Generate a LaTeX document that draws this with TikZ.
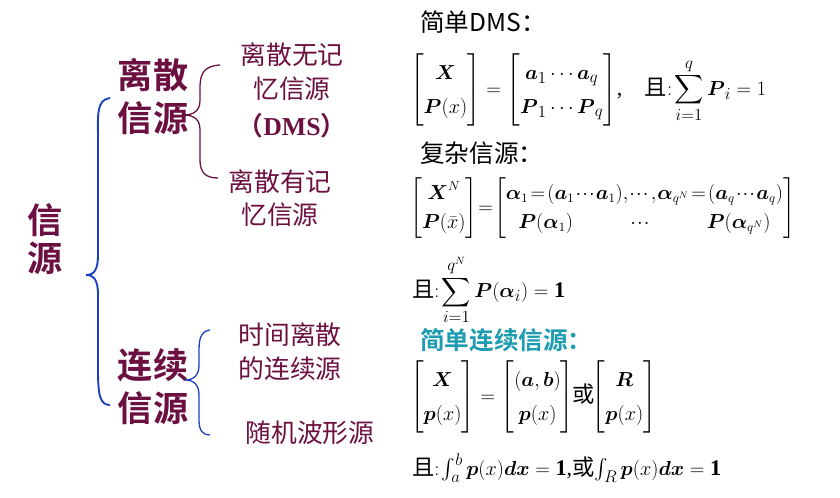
\documentclass[tikz,border=0pt]{standalone}
\usepackage{amsmath}
\usepackage{fontspec}
\setmainfont{Liberation Serif}
\newfontfamily\cjk{Noto Sans CJK SC}[BoldFont={Noto Sans CJK SC Bold}]
\usetikzlibrary{positioning}
\definecolor{maroon}{HTML}{6B1040}
\definecolor{braceblue}{HTML}{1A3FBF}
\definecolor{teal}{HTML}{1E9CB0}
\tikzset{
  big/.style={text=maroon, font=\cjk\bfseries\fontsize{30}{34}\selectfont, inner sep=0pt},
  mid/.style={text=maroon, font=\cjk\fontsize{22}{26}\selectfont, inner sep=0pt},
  head/.style={font=\cjk\fontsize{21}{24}\selectfont, inner sep=0pt, anchor=west},
  eq/.style={font=\fontsize{19}{23}\selectfont, inner sep=0pt, anchor=west},
}
\newcommand{\qie}{{\cjk 且}}
\renewcommand{\arraystretch}{1.25}
\begin{document}
\begin{tikzpicture}[x=0.03cm, y=-0.03cm]
	 		\useasboundingbox (0,0) rectangle (840,497);
	 		% Left labels
	 		\node[big] (xin) at (45,220) {信};
	 		\node[big] (yuan) at (45,258) {源};
	 		\node[big] (ls1) at (153,75) {离散};
	 		\node[big] (ls2) at (153,118) {信源};
	 		\node[big] (lx1) at (153,365) {连续};
	 		\node[big] (lx2) at (153,408) {信源};
	 		% Sub labels
	 		\node[mid] (dm1) at (292,55) {离散无记};
	 		\node[mid] (dm2) at (292,89) {忆信源};
	 		\node[mid, font=\bfseries\fontsize{22}{26}\selectfont] (dm3) at (292,126) {{\cjk （}DMS{\cjk ）}};
	 		\node[mid] (dy1) at (280,182) {离散有记};
	 		\node[mid] (dy2) at (280,215) {忆信源};
	 		\node[mid] (sj1) at (290,335) {时间离散};
	 		\node[mid] (sj2) at (290,369) {的连续源};
	 		\node[mid] (sj3) at (310,433) {随机波形源};
	 		% Braces
	 		\coordinate (b1) at (86,275);
	 		\coordinate (b1t) at (110,98);
	 		\coordinate (b1b) at (110,405);
	 		\draw[braceblue, line width=1.6pt] (b1t) .. controls (96,100) and (98,115) .. (98,140)
	 		  -- (98,255) .. controls (98,270) and (94,275) .. (b1)
	 		  .. controls (94,275) and (98,280) .. (98,295) -- (98,370)
	 		  .. controls (98,395) and (100,405) .. (b1b);
	 		\coordinate (b2) at (183,115);
	 		\coordinate (b2t) at (220,65);
	 		\coordinate (b2b) at (218,178);
	 		\draw[maroon, line width=1.1pt] (b2t) .. controls (205,66) and (200,72) .. (200,88)
	 		  -- (200,100) .. controls (200,110) and (195,115) .. (b2)
	 		  .. controls (195,115) and (200,120) .. (200,130) -- (200,160)
	 		  .. controls (200,172) and (205,178) .. (b2b);
	 		\coordinate (b3) at (185,380);
	 		\coordinate (b3t) at (210,330);
	 		\coordinate (b3b) at (210,435);
	 		\draw[braceblue, line width=1.1pt] (b3t) .. controls (202,331) and (199,337) .. (199,350)
	 		  -- (199,365) .. controls (199,375) and (194,380) .. (b3)
	 		  .. controls (194,380) and (199,385) .. (199,395) -- (199,420)
	 		  .. controls (199,431) and (203,435) .. (b3b);
	 		% Right formulas
	 		\node[head] (h1) at (420,22) {简单DMS：};
	 		\node[eq] (e1) at (410,90) {$\begin{bmatrix}\boldsymbol{X}\\ \boldsymbol{P}(x)\end{bmatrix}=\begin{bmatrix}\boldsymbol{a}_1\cdots \boldsymbol{a}_q\\ \boldsymbol{P}_1\cdots \boldsymbol{P}_q\end{bmatrix}$,\quad\qie$:\!\displaystyle\sum_{i=1}^{q}\boldsymbol{P}_i=1$};
	 		\node[head] (h2) at (420,153) {复杂信源：};
	 		\node[eq, font=\fontsize{16}{20}\selectfont] (e2) at (410,208) {\thickmuskip=2mu\medmuskip=1mu\thinmuskip=1mu\arraycolsep=3pt$\begin{bmatrix}\boldsymbol{X}^N\\ \boldsymbol{P}(\bar{x})\end{bmatrix}\!=\!\begin{bmatrix}\boldsymbol{\alpha}_1=(\boldsymbol{a}_1\cdots \boldsymbol{a}_1),\cdots,\boldsymbol{\alpha}_{q^N}=(\boldsymbol{a}_q\cdots \boldsymbol{a}_q)\\ \boldsymbol{P}(\boldsymbol{\alpha}_1)\qquad\quad\cdots\qquad\quad \boldsymbol{P}(\boldsymbol{\alpha}_{q^N})\end{bmatrix}$};
	 		\node[eq] (e3) at (412,290) {\qie$:\!\displaystyle\sum_{i=1}^{q^N}\boldsymbol{P}(\boldsymbol{\alpha}_i)=\mathbf{1}$};
	 		\node[head, text=teal, font=\cjk\bfseries\fontsize{21}{24}\selectfont] (h3) at (420,340) {简单连续信源：};
	 		\node[eq] (e4) at (410,397) {$\begin{bmatrix}\boldsymbol{X}\\ \boldsymbol{p}(x)\end{bmatrix}=\begin{bmatrix}(\boldsymbol{a},\boldsymbol{b})\\ \boldsymbol{p}(x)\end{bmatrix}$\hspace{-2pt}{\cjk 或}\hspace{-2pt}$\begin{bmatrix}\boldsymbol{R}\\ \boldsymbol{p}(x)\end{bmatrix}$};
	 		\node[eq] (e5) at (412,468) {\qie$:\!\int_a^b \boldsymbol{p}(x)\boldsymbol{dx}=\mathbf{1}$,{\cjk 或}$\int_R \boldsymbol{p}(x)\boldsymbol{dx}=\mathbf{1}$};
	 	\end{tikzpicture}
\end{document}
